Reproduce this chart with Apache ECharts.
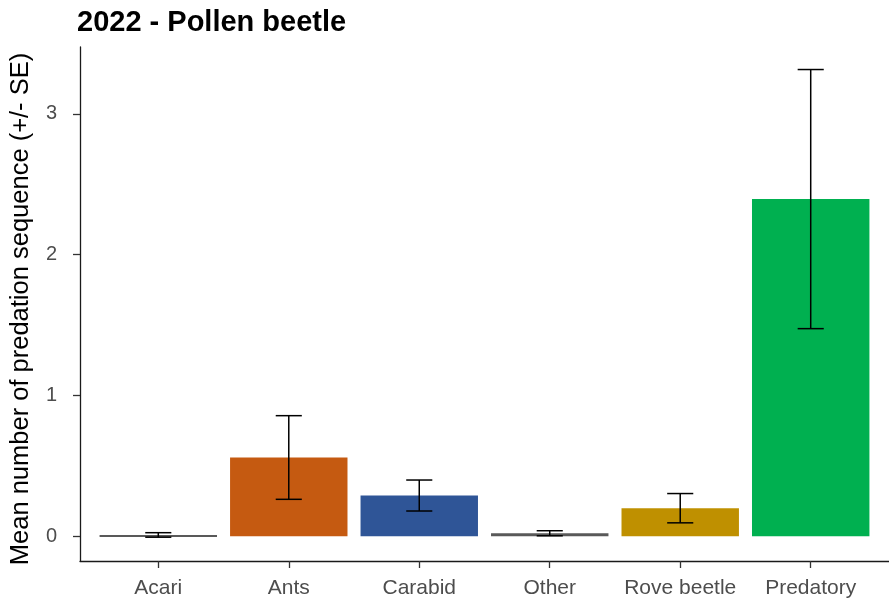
<!DOCTYPE html>
<html>
<head>
<meta charset="utf-8">
<title>2022 - Pollen beetle</title>
<script src="https://cdn.jsdelivr.net/npm/echarts@6/dist/echarts.min.js"></script>
<style>
  html, body { margin: 0; padding: 0; background: #fff; }
  #chart { width: 889px; height: 603px; }
</style>
</head>
<body>
<div id="chart"></div>
<script>
// Predator groups and their mean predation sequences with standard errors
const categories = ['Acari', 'Ants', 'Carabid', 'Other', 'Rove beetle', 'Predatory'];
const means = [0.01, 0.56, 0.29, 0.022, 0.20, 2.395];
const standardErrors = [0.016, 0.297, 0.11, 0.018, 0.104, 0.92];
const yTicks = [0, 1, 2, 3];

// Fill colour per group
const palette = ['#595959', '#C55A11', '#2F5597', '#595959', '#BF9000', '#00B050'];

const FONT = '"Liberation Sans", Arial, Helvetica, sans-serif';
const xIndex = categories.map((_, i) => i);

const barData = categories.map((c, i) => [i, means[i]]);
const errData = categories.map((c, i) => [i, means[i] - standardErrors[i], means[i] + standardErrors[i]]);

const chart = echarts.init(document.getElementById('chart'), null, { renderer: 'canvas' });

chart.setOption({
  animation: false,
  backgroundColor: '#ffffff',
  title: {
    text: '2022 - Pollen beetle',
    left: 77,
    top: 8,
    padding: 0,
    textStyle: { fontFamily: FONT, fontSize: 29, fontWeight: 'bold', color: '#000' }
  },
  grid: { left: 77, right: 0, top: 47, bottom: 42, containLabel: false },
  xAxis: {
    type: 'value',
    min: -0.6,
    max: 5.6,
    splitLine: { show: false },
    axisLine: { show: true, onZero: false, lineStyle: { color: '#1a1a1a', width: 1.3 } },
    axisTick: { show: true, length: 7, customValues: xIndex, lineStyle: { color: '#333', width: 1.3 } },
    axisLabel: {
      customValues: xIndex,
      formatter: v => categories[Math.round(v)] || '',
      fontFamily: FONT, fontSize: 21, color: '#4D4D4D', margin: 17
    }
  },
  yAxis: {
    type: 'value',
    min: -0.175,
    max: 3.475,
    name: 'Mean number of predation sequence (+/- SE)',
    nameLocation: 'middle',
    nameGap: 46,
    nameTextStyle: { fontFamily: FONT, fontSize: 25.5, color: '#000', padding: [0, 10, 0, 0] },
    splitLine: { show: false },
    axisLine: { show: true, onZero: false, lineStyle: { color: '#1a1a1a', width: 1.3 } },
    axisTick: { show: true, length: 7, customValues: yTicks, lineStyle: { color: '#333', width: 1.3 } },
    axisLabel: {
      customValues: yTicks,
      fontFamily: FONT, fontSize: 20, color: '#4D4D4D', margin: 23
    }
  },
  series: [
    {
      // Bars: 0.9 of a category step wide
      type: 'custom',
      name: 'mean',
      data: barData,
      encode: { x: 0, y: 1 },
      renderItem: function (params, api) {
        const i = api.value(0);
        const v = api.value(1);
        const top = api.coord([i, v]);
        const base = api.coord([i, 0]);
        const w = api.size([0.9, 0])[0];
        return {
          type: 'rect',
          shape: { x: top[0] - w / 2, y: top[1], width: w, height: Math.max(base[1] - top[1], 2) },
          style: { fill: palette[params.dataIndex] }
        };
      }
    },
    {
      // Error bars: mean ± SE with caps 0.2 of a category step wide
      type: 'custom',
      name: 'se',
      data: errData,
      encode: { x: 0, y: [1, 2] },
      z: 3,
      renderItem: function (params, api) {
        const i = api.value(0);
        const lo = api.coord([i, api.value(1)]);
        const hi = api.coord([i, api.value(2)]);
        const half = api.size([0.2, 0])[0] / 2;
        const style = { stroke: '#000', lineWidth: 1.5 };
        return {
          type: 'group',
          children: [
            { type: 'line', shape: { x1: lo[0], y1: lo[1], x2: hi[0], y2: hi[1] }, style },
            { type: 'line', shape: { x1: hi[0] - half, y1: hi[1], x2: hi[0] + half, y2: hi[1] }, style },
            { type: 'line', shape: { x1: lo[0] - half, y1: lo[1], x2: lo[0] + half, y2: lo[1] }, style }
          ]
        };
      }
    }
  ]
});
</script>
</body>
</html>
